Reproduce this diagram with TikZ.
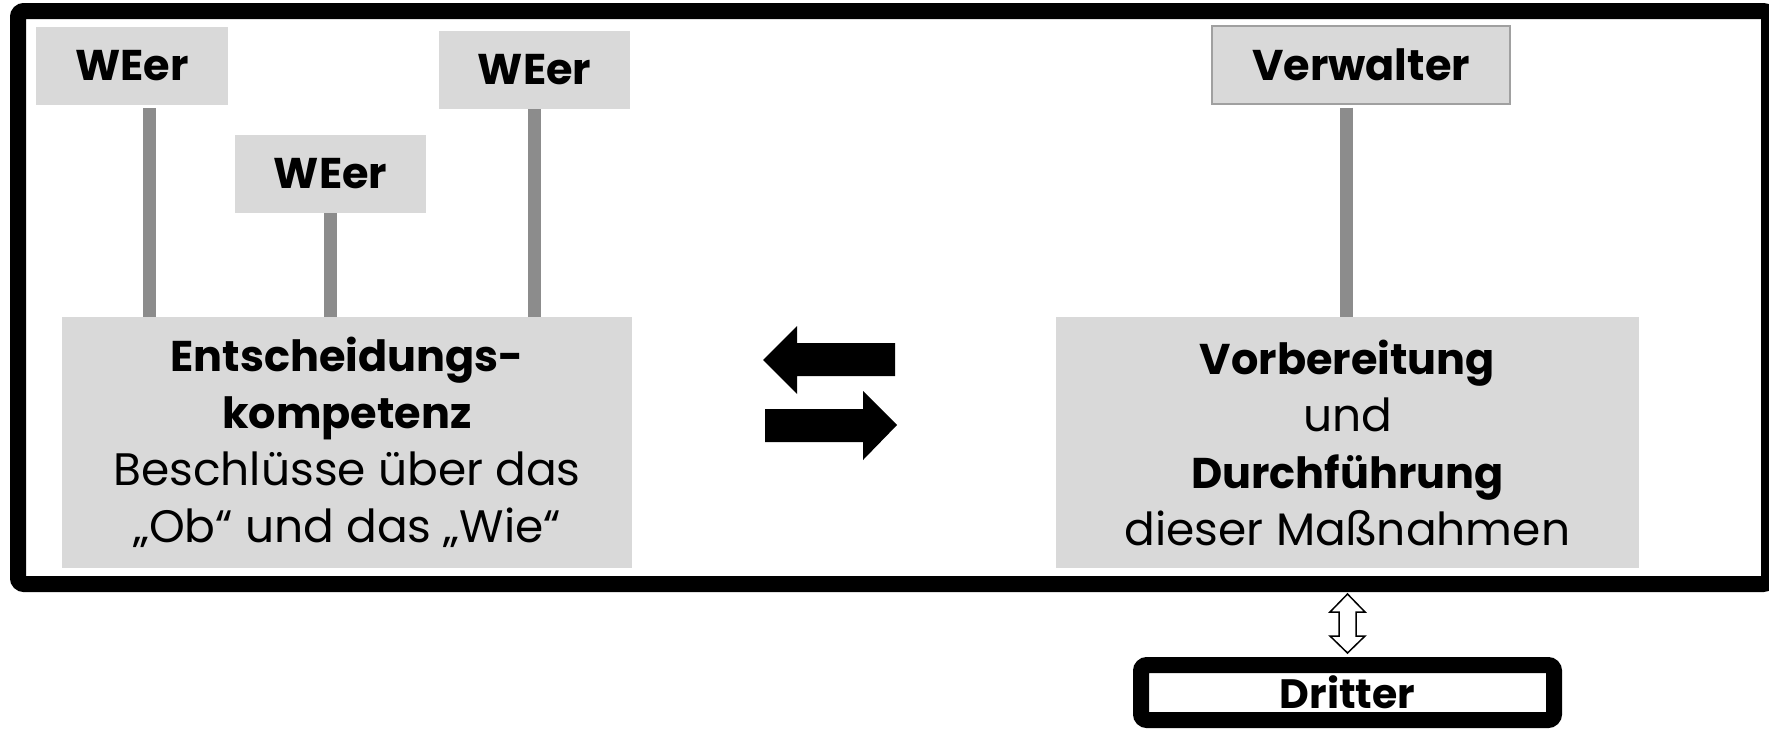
\documentclass[tikz,border=0pt]{standalone}
\usepackage{fontspec}
\setmainfont{Poppins}
\definecolor{boxgray}{HTML}{D9D9D9}
\definecolor{conngray}{HTML}{8C8C8C}
\definecolor{edgegray}{HTML}{A0A0A0}
\newcommand{\bl}[1]{{\fontsize{43}{57}\selectfont\bfseries #1}}
\begin{document}
\begin{tikzpicture}[x=1pt,y=-1pt,
  graybox/.style={fill=boxgray, inner sep=0pt, align=center},
  smallbox/.style={graybox, minimum height=78pt, font=\fontsize{43}{50}\selectfont\bfseries},
  bigbox/.style={graybox, minimum height=251pt, font=\fontsize{45.5}{57}\selectfont},
  conn/.style={draw=conngray, line width=13pt},
  bigarrow/.style={fill=black},
  thinarrow/.style={draw=black, fill=white, line width=1.5pt, line join=miter}]
\useasboundingbox (0,0) rectangle (1769,729);
% outer frame
\draw[line width=16pt, rounded corners=6pt] (18,11) rectangle (1769,584);
% upper boxes
\node[smallbox, minimum width=192pt] (w1) at (132,66) {WEer};
\node[smallbox, minimum width=191pt] (w2) at (330.5,174) {WEer};
\node[smallbox, minimum width=191pt] (w3) at (534.5,70) {WEer};
\node[smallbox, minimum width=298pt, draw=edgegray, line width=1.2pt] (verw) at (1361,65) {Verwalter};
% lower boxes
\node[bigbox, minimum width=570pt] (ent) at (347,442.5)
  {\bl{Entscheidungs-}\\\bl{kompetenz}\\Beschlüsse über das\\„Ob“ und das „Wie“};
\node[bigbox, minimum width=583pt] (vor) at (1347.5,442.5)
  {\bl{Vorbereitung}\\und\\\bl{Durchführung}\\dieser Maßnahmen};
% connectors
\draw[conn] ([xshift=17pt,yshift=-3pt]w1.south) -- ([xshift=17pt]w1.south |- ent.north);
\draw[conn] (w2.south) -- (w2.south |- ent.north);
\draw[conn] (w3.south) -- (w3.south |- ent.north);
\draw[conn] ([xshift=-15pt,yshift=-3pt]verw.south) -- ([xshift=-15pt]verw.south |- vor.north);
% exchange arrows
\fill[bigarrow] (763,360) -- (797,326) -- (797,343) -- (895,343) -- (895,376) -- (797,376) -- (797,394) -- cycle;
\fill[bigarrow] (897,425) -- (863,391) -- (863,409) -- (765,409) -- (765,442) -- (863,442) -- (863,460) -- cycle;
% Dritter
\node[draw=black, line width=16pt, rounded corners=6pt, fill=white, inner sep=0pt,
  minimum width=413pt, minimum height=55pt, font=\fontsize{41}{48}\selectfont\bfseries] (dritter) at (1347.5,692.5) {Dritter};
% double arrow
\coordinate (da) at (1347.5,594);
\draw[thinarrow] (da) -- ++(17.5,18) -- ++(-9,0) -- ++(0,24) -- ++(9,0) -- ++(-17.5,17)
  -- ++(-17.5,-17) -- ++(9,0) -- ++(0,-24) -- ++(-9,0) -- cycle;
\end{tikzpicture}
\end{document}
